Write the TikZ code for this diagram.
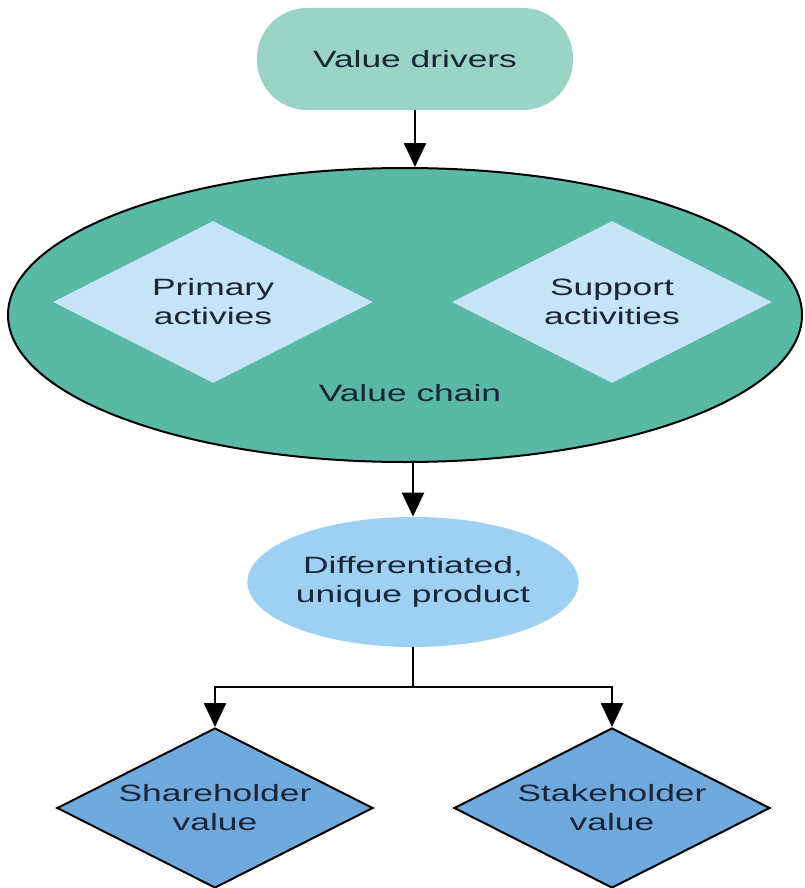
\documentclass[tikz,border=0pt]{standalone}
\usepackage{fontspec}
\setmainfont{Liberation Sans}[FakeStretch=1.5]
\usetikzlibrary{shapes.geometric,arrows.meta}
\definecolor{driverfill}{HTML}{99D4C6}
\definecolor{chainfill}{HTML}{5AB9A6}
\definecolor{activfill}{HTML}{C6E4F7}
\definecolor{productfill}{HTML}{9DD0F2}
\definecolor{valuefill}{HTML}{70A9DD}
\definecolor{textcol}{HTML}{1B2535}
\begin{document}
\begin{tikzpicture}[x=0.5pt,y=-0.5pt,>={Triangle[length=12pt,width=11pt]},
		every node/.style={font=\fontsize{11.8pt}{14.5pt}\selectfont,text=textcol,align=center,inner sep=0pt},
		pill/.style={rectangle,rounded corners=25pt,fill=driverfill,minimum width=158pt,minimum height=51pt},
		bigoval/.style={ellipse,draw=black,line width=1pt,fill=chainfill,minimum width=397pt,minimum height=147pt},
		innerdiam/.style={diamond,shape aspect=2,fill=activfill,minimum width=160pt,minimum height=81pt},
		oval/.style={ellipse,fill=productfill,minimum width=157pt,minimum height=65pt},
		outdiam/.style={diamond,shape aspect=2,draw=black,line width=1pt,fill=valuefill,minimum width=158pt,minimum height=80pt},
		link/.style={->,line width=1.3pt}]
	\useasboundingbox (0,0) rectangle (804,888);
	%%%%%%%%
	\node[pill] (drivers) at (415,59) {Value drivers};
	\node[bigoval] (chain) at (405,315) {};
	\node[innerdiam] (primary) at (213,302) {Primary\\activies};
	\node[innerdiam] (support) at (612,302) {Support\\activities};
	\node (chainlbl) at (410,393) {Value chain};
	\node[oval] (product) at (413,582) {Differentiated,\\unique product};
	\node[outdiam] (share) at (215,808) {Shareholder\\value};
	\node[outdiam] (stake) at (612,808) {Stakeholder\\value};
	%%%%%%%%
	\coordinate (fork) at (413,687);
	\draw[link] (drivers.south) -- (drivers.south |- chain.north);
	\draw[link] (product.north |- chain.south) -- (product.north);
	\draw[line width=1.3pt] (product.south) -- (fork);
	\draw[link] (fork) -| (share.north);
	\draw[link] (fork) -| (stake.north);
\end{tikzpicture}
\end{document}
